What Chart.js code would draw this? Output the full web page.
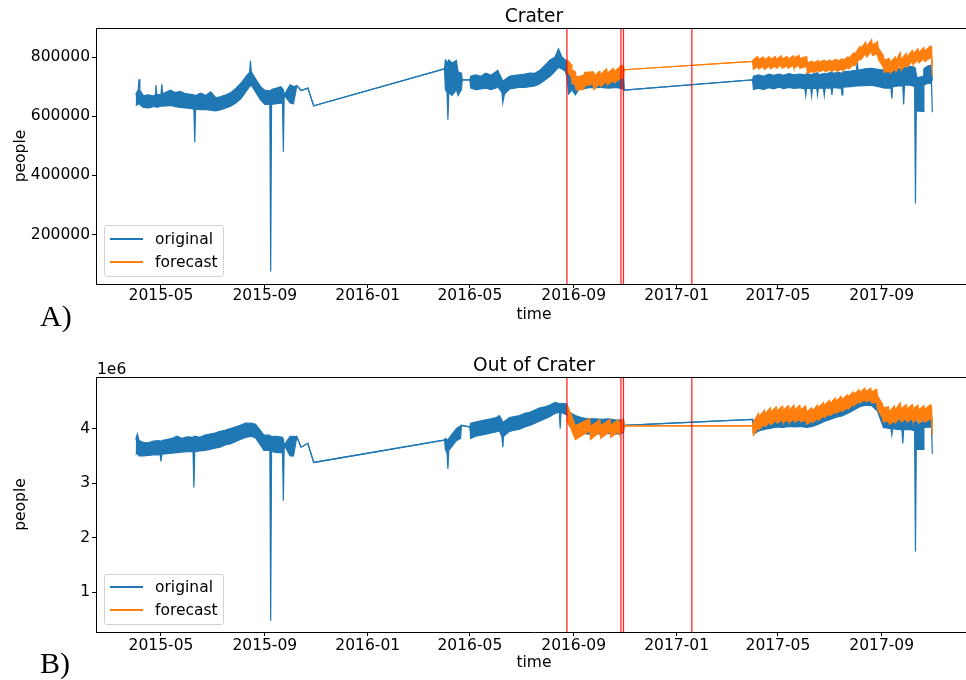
<!DOCTYPE html>
<html>
<head>
<meta charset="utf-8">
<script src="https://cdn.jsdelivr.net/npm/chart.js@4.4.1/dist/chart.umd.min.js"></script>
<style>
html, body { margin: 0; padding: 0; background: #fff; overflow: hidden; }
body { width: 966px; height: 680px; position: relative; font-family: 'DejaVu Sans'; color: #000; }
canvas { position: absolute; left: 0; }
.panel { position: absolute; left: 40px; font-family: 'Liberation Serif'; font-size: 30px; line-height: 30px; }
.legend { position: absolute; left: 104px; width: 118px; border: 1px solid #d3d3d3; border-radius: 3px; background: rgba(255,255,255,0.8); font-size: 15.5px; }
.row { position: absolute; left: 0; height: 0; }
.swatch { position: absolute; left: 5px; top: -1px; width: 33px; height: 1.5px; }
.lbl { position: absolute; left: 50px; top: -10px; line-height: 20px; white-space: nowrap; }
.offset { position: absolute; left: 97px; top: 360px; font-size: 15.5px; line-height: 18px; }
</style>
</head>
<body>
<canvas id="crater" width="980" height="340" style="top:0"></canvas>
<canvas id="outCrater" width="980" height="340" style="top:340px"></canvas>

<div class="panel" style="top:301px">A)</div>
<div class="panel" style="top:648px">B)</div>
<div class="offset">1e6</div>

<div class="legend" style="top:225px;height:50px">
  <div class="row" style="top:13px"><span class="swatch" style="background:#1f77b4"></span><span class="lbl">original</span></div>
  <div class="row" style="top:36px"><span class="swatch" style="background:#ff7f0e"></span><span class="lbl">forecast</span></div>
</div>
<div class="legend" style="top:574px;height:49px">
  <div class="row" style="top:12px"><span class="swatch" style="background:#1f77b4"></span><span class="lbl">original</span></div>
  <div class="row" style="top:35px"><span class="swatch" style="background:#ff7f0e"></span><span class="lbl">forecast</span></div>
</div>

<script>
// axis ticks
var xTickLabels = ['2015-05', '2015-09', '2016-01', '2016-05', '2016-09', '2017-01', '2017-05', '2017-09'];
var craterTicks = [200000, 400000, 600000, 800000];
var craterTickLabels = ['200000', '400000', '600000', '800000'];
var outTicks = [1, 2, 3, 4];              // x 1e6
var outTickLabels = ['1', '2', '3', '4'];
var redLineDates = ['2016-08-24', '2016-10-27', '2016-10-30', '2017-01-19'];

// rows: [date, daily high, daily low]  (Crater, people)
var craterOriginal = [
  ['2015-04-01',672000,636000],['2015-04-04',690000,640000],['2015-04-05',725000,645000],['2015-04-06',688000,640000],
  ['2015-04-10',670000,630000],['2015-04-16',672000,628000],['2015-04-22',668000,632000],['2015-04-24',672000,633000],
  ['2015-04-25',705000,633000],['2015-04-26',672000,630000],['2015-05-01',674000,634000],['2015-05-02',708000,636000],
  ['2015-05-03',676000,634000],['2015-05-12',688000,636000],
  ['2015-05-18',680000,632000],['2015-05-24',684000,630000],['2015-05-30',676000,628000],['2015-06-05',674000,626000],
  ['2015-06-09',672000,624000],['2015-06-10',670000,512000],['2015-06-11',670000,624000],['2015-06-17',678000,622000],
  ['2015-06-23',670000,622000],['2015-06-29',682000,620000],['2015-07-05',662000,618000],['2015-07-11',666000,622000],
  ['2015-07-17',672000,628000],['2015-07-23',680000,635000],['2015-07-29',695000,645000],['2015-08-04',712000,660000],
  ['2015-08-10',735000,685000],['2015-08-14',748000,700000],['2015-08-15',787000,702000],['2015-08-16',750000,705000],
  ['2015-08-22',722000,678000],['2015-08-27',700000,655000],['2015-09-01',688000,640000],['2015-09-07',686000,640000],
  ['2015-09-08',685000,75000],['2015-09-09',690000,640000],['2015-09-15',695000,642000],['2015-09-20',700000,645000],
  ['2015-09-22',692000,642000],['2015-09-23',690000,480000],['2015-09-24',672000,672000],['2015-10-01',706000,645000],
  ['2015-10-05',700000,642000],['2015-10-09',703000,703000],['2015-10-14',687000,687000],['2015-10-22',695000,695000],
  ['2015-10-29',635000,635000],
  ['2016-04-01',760000,760000],['2016-04-02',790000,690000],['2016-04-04',785000,680000],['2016-04-05',760000,588000],
  ['2016-04-06',790000,680000],['2016-04-10',780000,670000],['2016-04-15',788000,690000],['2016-04-17',750000,670000],
  ['2016-04-21',745000,690000],['2016-04-22',723000,723000],['2016-05-01',723000,723000],['2016-05-02',735000,695000],
  ['2016-05-08',740000,690000],['2016-05-14',735000,692000],['2016-05-20',745000,695000],['2016-05-26',738000,690000],
  ['2016-06-01',750000,695000],['2016-06-03',755000,700000],['2016-06-08',725000,680000],['2016-06-09',720000,645000],
  ['2016-06-11',722000,675000],['2016-06-17',735000,692000],['2016-06-23',738000,695000],['2016-06-29',740000,698000],
  ['2016-07-05',742000,697000],['2016-07-11',746000,700000],['2016-07-17',745000,702000],['2016-07-23',755000,710000],
  ['2016-07-29',772000,722000],['2016-08-04',790000,735000],['2016-08-10',800000,752000],['2016-08-14',828000,765000],
  ['2016-08-18',800000,760000],['2016-08-22',790000,752000],['2016-08-24',785000,735000],['2016-08-26',745000,675000],
  ['2016-08-30',740000,690000],['2016-09-03',730000,672000],['2016-09-08',732000,695000],['2016-09-14',735000,693000],
  ['2016-09-20',730000,697000],['2016-09-26',736000,696000],['2016-10-02',733000,698000],['2016-10-08',738000,696000],
  ['2016-10-14',735000,695000],['2016-10-20',738000,697000],['2016-10-26',740000,695000],['2016-10-30',745000,690000],
  ['2016-10-31',688000,688000],
  ['2017-04-01',723000,723000],['2017-04-02',735000,690000],['2017-04-08',740000,695000],['2017-04-14',735000,690000],
  ['2017-04-20',742000,696000],['2017-04-26',738000,692000],['2017-05-02',742000,698000],['2017-05-08',738000,693000],
  ['2017-05-14',744000,697000],['2017-05-20',740000,694000],['2017-05-26',742000,696000],['2017-06-02',740000,692000],
  ['2017-06-03',738000,670000],['2017-06-04',745000,695000],['2017-06-09',740000,694000],['2017-06-10',740000,668000],
  ['2017-06-11',742000,695000],['2017-06-16',746000,694000],['2017-06-17',748000,672000],['2017-06-18',740000,696000],
  ['2017-06-24',744000,694000],['2017-06-25',745000,670000],['2017-06-26',742000,695000],['2017-07-03',748000,696000],
  ['2017-07-04',750000,672000],['2017-07-05',745000,697000],['2017-07-12',748000,695000],['2017-07-15',746000,696000],
  ['2017-07-16',745000,672000],['2017-07-17',750000,698000],['2017-07-26',752000,700000],['2017-08-02',755000,702000],
  ['2017-08-03',782000,702000],['2017-08-04',755000,702000],['2017-08-12',760000,703000],['2017-08-20',762000,705000],
  ['2017-08-28',758000,700000],['2017-09-05',755000,695000],['2017-09-12',752000,695000],['2017-09-13',752000,660000],
  ['2017-09-14',755000,700000],['2017-09-21',760000,702000],['2017-09-26',762000,702000],['2017-09-27',762000,640000],
  ['2017-09-28',765000,705000],['2017-10-05',768000,705000],['2017-10-10',765000,700000],['2017-10-11',760000,305000],
  ['2017-10-12',740000,640000],['2017-10-13',730000,618000],['2017-10-20',735000,616000],['2017-10-21',760000,705000],
  ['2017-10-26',770000,712000],['2017-10-30',772000,710000],['2017-10-31',720000,613000]
];

var craterForecast = [
  ['2016-08-24',792000,752000],['2016-08-29',775000,735000],['2016-08-30',757000,712000],['2016-09-03',750000,705000],
  ['2016-09-04',732000,688000],['2016-09-13',738000,690000],['2016-09-14',748000,702000],['2016-09-24',750000,708000],
  ['2016-09-25',735000,690000],['2016-10-02',752000,710000],['2016-10-03',740000,700000],['2016-10-10',760000,718000],
  ['2016-10-11',745000,705000],['2016-10-18',762000,722000],['2016-10-19',750000,712000],['2016-10-28',772000,730000],
  ['2016-10-30',768000,730000],['2016-10-31',757000,757000],
  ['2017-04-01',785000,785000],['2017-04-02',792000,758000],['2017-04-07',802000,768000],['2017-04-08',792000,760000],
  ['2017-04-14',800000,768000],['2017-04-15',790000,758000],['2017-04-21',802000,770000],['2017-04-22',792000,760000],
  ['2017-04-28',801000,770000],['2017-04-29',792000,762000],['2017-05-05',804000,772000],['2017-05-06',794000,762000],
  ['2017-05-12',802000,770000],['2017-05-13',792000,762000],['2017-05-19',804000,772000],['2017-05-20',795000,762000],
  ['2017-05-26',806000,773000],['2017-05-27',795000,762000],['2017-06-04',802000,768000],['2017-06-05',780000,745000],
  ['2017-06-11',786000,752000],['2017-06-12',780000,748000],['2017-06-18',788000,755000],['2017-06-19',782000,750000],
  ['2017-06-25',790000,757000],['2017-06-26',783000,750000],['2017-07-02',790000,757000],['2017-07-03',784000,752000],
  ['2017-07-09',792000,758000],['2017-07-10',785000,752000],['2017-07-16',794000,760000],['2017-07-17',787000,754000],
  ['2017-07-23',800000,765000],['2017-07-24',795000,760000],['2017-07-30',815000,775000],['2017-07-31',808000,770000],
  ['2017-08-06',835000,795000],['2017-08-07',828000,790000],['2017-08-13',850000,812000],['2017-08-14',835000,800000],
  ['2017-08-20',858000,818000],['2017-08-21',840000,805000],['2017-08-27',852000,810000],['2017-08-28',830000,792000],
  ['2017-09-03',805000,765000],['2017-09-04',790000,748000],['2017-09-10',795000,752000],['2017-09-11',782000,745000],
  ['2017-09-17',800000,760000],['2017-09-18',788000,750000],['2017-09-23',815000,775000],['2017-09-24',790000,755000],
  ['2017-09-30',812000,775000],['2017-10-01',800000,765000],['2017-10-07',822000,785000],['2017-10-08',810000,775000],
  ['2017-10-14',828000,790000],['2017-10-15',815000,780000],['2017-10-21',832000,795000],['2017-10-22',820000,785000],
  ['2017-10-29',838000,798000],['2017-10-30',835000,795000],['2017-10-31',770000,735000]
];

// rows: [date, daily high, daily low]  (Out of Crater, millions of people)
var outOriginal = [
  ['2015-04-01',3.80,3.52],['2015-04-03',3.90,3.55],['2015-04-05',3.78,3.50],['2015-04-10',3.75,3.50],
  ['2015-04-16',3.74,3.51],['2015-04-22',3.77,3.52],['2015-04-28',3.78,3.52],['2015-04-30',3.77,3.53],
  ['2015-05-01',3.76,3.40],['2015-05-02',3.78,3.53],['2015-05-08',3.80,3.54],['2015-05-14',3.82,3.55],
  ['2015-05-20',3.86,3.56],['2015-05-26',3.82,3.57],['2015-06-01',3.85,3.58],['2015-06-08',3.84,3.58],
  ['2015-06-09',3.84,2.92],['2015-06-10',3.86,3.58],['2015-06-16',3.84,3.59],['2015-06-22',3.88,3.60],
  ['2015-06-28',3.90,3.62],['2015-07-04',3.92,3.64],['2015-07-10',3.95,3.66],['2015-07-16',3.97,3.70],
  ['2015-07-22',4.00,3.72],['2015-07-28',4.03,3.76],['2015-08-03',4.06,3.80],['2015-08-09',4.10,3.84],
  ['2015-08-16',4.10,3.86],['2015-08-21',4.08,3.83],['2015-08-26',3.98,3.72],['2015-08-31',3.88,3.60],
  ['2015-09-07',3.88,3.60],['2015-09-08',3.86,0.48],['2015-09-09',3.86,3.58],['2015-09-15',3.86,3.56],
  ['2015-09-22',3.84,3.56],['2015-09-23',3.80,2.68],['2015-09-24',3.70,3.70],['2015-10-01',3.86,3.50],
  ['2015-10-05',3.86,3.50],['2015-10-09',3.85,3.85],['2015-10-14',3.66,3.66],['2015-10-22',3.73,3.73],
  ['2015-10-29',3.38,3.38],
  ['2016-04-01',3.79,3.79],['2016-04-02',3.82,3.62],['2016-04-04',3.80,3.55],['2016-04-05',3.78,3.26],
  ['2016-04-06',3.82,3.60],['2016-04-10',3.90,3.68],['2016-04-15',4.00,3.78],['2016-04-20',4.05,3.82],
  ['2016-04-21',4.06,4.06],['2016-05-01',4.03,4.03],['2016-05-02',4.10,3.82],['2016-05-08',4.12,3.86],
  ['2016-05-14',4.14,3.88],['2016-05-20',4.16,3.90],['2016-05-26',4.18,3.92],['2016-06-01',4.20,3.94],
  ['2016-06-05',4.24,3.96],['2016-06-08',4.16,3.85],['2016-06-09',4.10,3.66],['2016-06-10',4.12,3.86],
  ['2016-06-17',4.20,3.95],['2016-06-23',4.22,3.97],['2016-06-29',4.24,3.99],['2016-07-05',4.28,4.03],
  ['2016-07-11',4.30,4.06],['2016-07-17',4.34,4.10],['2016-07-23',4.38,4.14],['2016-07-29',4.40,4.18],
  ['2016-08-04',4.43,4.22],['2016-08-10',4.48,4.28],['2016-08-15',4.46,4.30],['2016-08-16',4.44,4.00],
  ['2016-08-17',4.46,4.30],['2016-08-24',4.45,4.25],['2016-08-27',4.30,4.05],['2016-09-03',4.24,3.96],
  ['2016-09-10',4.20,3.92],['2016-09-18',4.18,3.90],['2016-09-26',4.18,3.91],['2016-10-04',4.17,3.90],
  ['2016-10-12',4.18,3.91],['2016-10-20',4.16,3.90],['2016-10-30',4.15,3.92],['2016-10-31',4.06,4.06],
  ['2017-04-01',4.17,4.17],['2017-04-02',4.14,3.90],['2017-04-09',4.20,3.96],['2017-04-16',4.24,3.99],
  ['2017-04-23',4.26,4.01],['2017-04-30',4.28,4.03],['2017-05-07',4.28,4.02],['2017-05-14',4.29,4.04],
  ['2017-05-21',4.28,4.03],['2017-05-28',4.30,4.04],['2017-06-04',4.26,4.02],['2017-06-11',4.28,4.04],
  ['2017-06-18',4.32,4.08],['2017-06-25',4.37,4.13],['2017-07-02',4.41,4.17],['2017-07-09',4.45,4.21],
  ['2017-07-16',4.48,4.23],['2017-07-23',4.52,4.28],['2017-07-30',4.57,4.34],['2017-08-06',4.62,4.40],
  ['2017-08-13',4.64,4.43],['2017-08-20',4.63,4.42],['2017-08-27',4.55,4.32],['2017-09-03',4.25,4.02],
  ['2017-09-12',4.22,4.00],['2017-09-13',4.20,3.88],['2017-09-14',4.22,4.00],['2017-09-22',4.24,3.98],
  ['2017-09-25',4.24,3.98],['2017-09-26',4.24,3.73],['2017-09-27',4.24,3.98],['2017-10-05',4.25,3.98],
  ['2017-10-10',4.22,3.96],['2017-10-11',4.20,1.75],['2017-10-12',4.18,3.70],['2017-10-13',4.10,3.62],
  ['2017-10-20',4.12,3.62],['2017-10-21',4.21,4.02],['2017-10-30',4.22,4.03],['2017-10-31',4.10,3.54]
];

var outForecast = [
  ['2016-08-24',4.43,4.15],['2016-08-29',4.26,4.00],['2016-09-03',4.05,3.80],['2016-09-20',4.18,3.96],
  ['2016-09-21',4.04,3.80],['2016-10-02',4.16,3.94],['2016-10-03',4.05,3.82],['2016-10-14',4.17,3.95],
  ['2016-10-15',4.06,3.84],['2016-10-24',4.16,3.95],['2016-10-25',4.08,3.88],['2016-10-30',4.18,3.98],
  ['2016-10-31',4.05,4.05],
  ['2017-04-01',4.05,4.05],['2017-04-02',4.12,3.88],['2017-04-08',4.28,4.02],['2017-04-09',4.22,3.99],
  ['2017-04-15',4.34,4.08],['2017-04-16',4.27,4.04],['2017-04-22',4.38,4.12],['2017-04-23',4.30,4.07],
  ['2017-04-29',4.40,4.15],['2017-04-30',4.32,4.10],['2017-05-06',4.41,4.16],['2017-05-07',4.33,4.11],
  ['2017-05-13',4.42,4.16],['2017-05-14',4.33,4.11],['2017-05-20',4.43,4.17],['2017-05-21',4.34,4.12],
  ['2017-05-27',4.43,4.17],['2017-05-28',4.34,4.12],['2017-06-03',4.42,4.16],['2017-06-04',4.30,4.08],
  ['2017-06-10',4.38,4.14],['2017-06-11',4.33,4.11],['2017-06-17',4.43,4.18],['2017-06-18',4.38,4.15],
  ['2017-06-24',4.48,4.23],['2017-06-25',4.42,4.20],['2017-07-01',4.52,4.27],['2017-07-02',4.46,4.24],
  ['2017-07-08',4.56,4.31],['2017-07-09',4.50,4.28],['2017-07-15',4.59,4.34],['2017-07-16',4.53,4.31],
  ['2017-07-22',4.62,4.38],['2017-07-23',4.57,4.36],['2017-07-29',4.67,4.44],['2017-07-30',4.62,4.42],
  ['2017-08-05',4.71,4.49],['2017-08-06',4.66,4.47],['2017-08-12',4.74,4.53],['2017-08-13',4.68,4.49],
  ['2017-08-19',4.74,4.52],['2017-08-20',4.67,4.47],['2017-08-26',4.72,4.48],['2017-08-27',4.60,4.36],
  ['2017-09-02',4.45,4.20],['2017-09-03',4.38,4.12],['2017-09-09',4.40,4.14],['2017-09-10',4.30,4.08],
  ['2017-09-16',4.42,4.14],['2017-09-17',4.34,4.10],['2017-09-23',4.47,4.20],['2017-09-24',4.36,4.12],
  ['2017-09-30',4.44,4.18],['2017-10-01',4.36,4.12],['2017-10-07',4.44,4.18],['2017-10-08',4.36,4.12],
  ['2017-10-14',4.43,4.18],['2017-10-15',4.34,4.10],['2017-10-21',4.42,4.17],['2017-10-22',4.35,4.12],
  ['2017-10-29',4.44,4.18],['2017-10-30',4.40,4.15],['2017-10-31',4.05,3.88]
];

var blue = '#1f77b4', orange = '#ff7f0e';

function day(s) { return Date.parse(s + 'T00:00:00Z'); }

Chart.defaults.font.family = 'DejaVu Sans';
Chart.defaults.font.size = 15.5;
Chart.defaults.color = '#000';

// a daily high line and a daily low line, filled between
function band(rows, color, order) {
  var hi = rows.map(function (r) { return { x: day(r[0]), y: r[1] }; });
  var lo = rows.map(function (r) { return { x: day(r[0]), y: r[2] }; });
  return [
    { data: hi, borderColor: color, borderWidth: 1.2, pointRadius: 0, fill: false, order: order },
    { data: lo, borderColor: color, backgroundColor: color, borderWidth: 1.2, pointRadius: 0, fill: '-1', order: order }
  ];
}

var framePlugin = {
  id: 'frame',
  afterDatasetsDraw: function (chart) {
    var ctx = chart.ctx, a = chart.chartArea, x = chart.scales.x;
    ctx.save();
    ctx.strokeStyle = 'rgba(255,0,0,0.85)';
    ctx.lineWidth = 1.3;
    redLineDates.forEach(function (d) {
      var px = x.getPixelForValue(day(d));
      ctx.beginPath();
      ctx.moveTo(px, a.top);
      ctx.lineTo(px, a.bottom);
      ctx.stroke();
    });
    ctx.strokeStyle = '#000';
    ctx.lineWidth = 1;
    ctx.beginPath();
    ctx.moveTo(a.left, a.top + 0.5);
    ctx.lineTo(a.right + 0.5, a.top + 0.5);
    ctx.lineTo(a.right + 0.5, a.bottom);
    ctx.stroke();
    ctx.restore();
  }
};

function makeChart(id, c) {
  return new Chart(document.getElementById(id), {
    type: 'line',
    data: { datasets: band(c.original, blue, 2).concat(band(c.forecast, orange, 1)) },
    options: {
      responsive: false,
      animation: false,
      layout: { padding: { left: 0, right: 8, top: 0, bottom: 0 } },
      plugins: {
        legend: { display: false },
        tooltip: { enabled: false },
        title: {
          display: true, text: c.title, fullSize: false, color: '#000',
          font: { size: 18.6, weight: 'normal', lineHeight: 1 },
          padding: { top: c.titleTop, bottom: c.titleBottom }
        }
      },
      scales: {
        x: {
          type: 'linear',
          min: day('2015-02-13'),
          max: day('2017-12-17'),
          afterBuildTicks: function (s) { s.ticks = xTickLabels.map(function (l) { return { value: day(l + '-01') }; }); },
          afterFit: function (s) { s.height = c.xAxisHeight; },
          ticks: {
            autoSkip: false, maxRotation: 0, padding: c.xTickPad,
            font: { lineHeight: 1 },
            callback: function (v, i) { return xTickLabels[i]; }
          },
          grid: { drawOnChartArea: false, tickLength: 4, tickColor: '#000' },
          border: { color: '#000' },
          title: { display: true, text: 'time', font: { lineHeight: 1 }, padding: { top: 0, bottom: c.timePad } }
        },
        y: {
          type: 'linear',
          min: c.yMin,
          max: c.yMax,
          afterBuildTicks: function (s) { s.ticks = c.yTicks.map(function (v) { return { value: v }; }); },
          afterFit: function (s) { s.width = 96; },
          ticks: {
            autoSkip: false, padding: 2,
            callback: function (v, i) { return c.yTickLabels[i]; }
          },
          grid: { drawOnChartArea: false, tickLength: 4, tickColor: '#000' },
          border: { color: '#000' },
          title: { display: true, text: 'people', font: { lineHeight: 1 }, padding: { top: 13.25, bottom: 0 } }
        }
      }
    },
    plugins: [framePlugin]
  });
}

makeChart('crater', {
  title: 'Crater', original: craterOriginal, forecast: craterForecast,
  yMin: 33000, yMax: 898000, yTicks: craterTicks, yTickLabels: craterTickLabels,
  titleTop: 8, titleBottom: 1.4, xAxisHeight: 56, xTickPad: 0, timePad: 17.25
});

makeChart('outCrater', {
  title: 'Out of Crater', original: outOriginal, forecast: outForecast,
  yMin: 0.275, yMax: 4.945, yTicks: outTicks, yTickLabels: outTickLabels,
  titleTop: 16.7, titleBottom: 1.7, xAxisHeight: 48, xTickPad: 2.5, timePad: 9.25
});
</script>
</body>
</html>
